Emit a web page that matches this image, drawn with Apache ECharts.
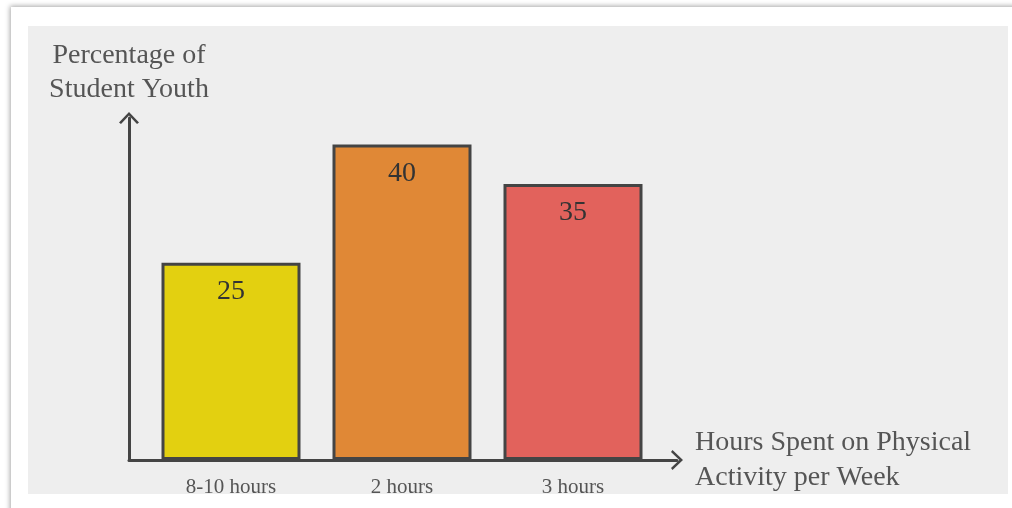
<!DOCTYPE html>
<html>
<head>
<meta charset="utf-8">
<script src="https://cdn.jsdelivr.net/npm/echarts@6/dist/echarts.min.js"></script>
<style>
  html, body { margin: 0; padding: 0; background: #ffffff; }
  #chart { width: 1012px; height: 508px; }
</style>
</head>
<body>
<div id="chart"></div>
<script>
// Weekly physical activity of student youth
const categories = ['8-10 hours', '2 hours', '3 hours'];
const percentages = [25, 40, 35];
const barColors = ['#e3d010', '#e08836', '#e2625c'];
const yAxisTitle = 'Percentage of\nStudent Youth';
const xAxisTitle = 'Hours Spent on Physical\nActivity per Week';

const serif = '"Liberation Serif", "DejaVu Serif", serif';
const lineColor = '#444444';

// open chevron used as the arrow head at the end of each axis line
const chevron = 'path://M0,10.5 L10,0 L20,10.5 L18,12 L10,3.6 L2,12 Z';

const chart = echarts.init(document.getElementById('chart'), null, { renderer: 'canvas' });

chart.setOption({
  backgroundColor: '#ffffff',
  animation: false,
  graphic: [
    {
      type: 'rect', z: -10, silent: true,
      shape: { x: 11, y: 7, width: 1040, height: 540 },
      style: { fill: '#ffffff', shadowBlur: 5, shadowColor: 'rgba(0,0,0,0.35)', shadowOffsetX: -1, shadowOffsetY: -1 }
    },
    {
      type: 'rect', z: -9, silent: true,
      shape: { x: 28, y: 26, width: 980, height: 468 },
      style: { fill: '#eeeeee' }
    }
  ],
  grid: [
    // bars and category labels
    { left: 145.5, top: 113, width: 513, height: 347 },
    // arrowed axis lines
    { left: 129, top: 118, width: 548, height: 342 }
  ],
  xAxis: [
    {
      gridIndex: 0,
      type: 'category',
      data: categories,
      axisLine: { show: false },
      axisTick: { show: false },
      axisLabel: { margin: 17, fontFamily: serif, fontSize: 21, color: '#555555' }
    },
    {
      gridIndex: 1,
      type: 'value', min: 0, max: 1,
      axisLine: { show: true, symbol: ['none', chevron], symbolSize: [20, 12], lineStyle: { color: lineColor, width: 3 } },
      axisTick: { show: false },
      axisLabel: { show: false },
      splitLine: { show: false },
      name: xAxisTitle,
      nameLocation: 'end',
      nameGap: 18,
      nameTextStyle: { fontFamily: serif, fontSize: 28, lineHeight: 35, color: '#555555', align: 'left' }
    }
  ],
  yAxis: [
    {
      gridIndex: 0,
      type: 'value', min: 0, max: 44,
      axisLine: { show: false },
      axisTick: { show: false },
      axisLabel: { show: false },
      splitLine: { show: false }
    },
    {
      gridIndex: 1,
      type: 'value', min: 0, max: 1,
      axisLine: { show: true, symbol: ['none', chevron], symbolSize: [20, 12], lineStyle: { color: lineColor, width: 3 } },
      axisTick: { show: false },
      axisLabel: { show: false },
      splitLine: { show: false },
      name: yAxisTitle,
      nameLocation: 'end',
      nameGap: 11,
      nameTextStyle: { fontFamily: serif, fontSize: 28, lineHeight: 34, color: '#555555', align: 'center' }
    }
  ],
  series: [
    {
      type: 'bar',
      xAxisIndex: 0,
      yAxisIndex: 0,
      barWidth: 139,
      data: percentages.map((v, i) => ({
        value: v,
        itemStyle: { color: barColors[i], borderColor: lineColor, borderWidth: 3 }
      })),
      label: {
        show: true,
        position: 'insideTop',
        distance: 15,
        fontFamily: serif,
        fontSize: 28,
        color: '#333333'
      }
    }
  ]
});
</script>
</body>
</html>
